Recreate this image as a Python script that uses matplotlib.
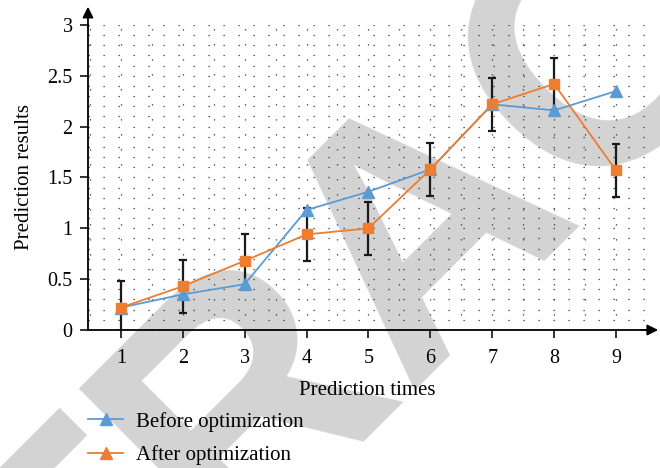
import matplotlib
matplotlib.use('Agg')
import matplotlib.pyplot as plt
from matplotlib.lines import Line2D
from matplotlib.ticker import MultipleLocator

# === data ===
times = [1, 2, 3, 4, 5, 6, 7, 8, 9]
before_opt = [0.22, 0.35, 0.45, 1.18, 1.36, 1.58, 2.22, 2.16, 2.35]
after_opt = [0.22, 0.43, 0.68, 0.94, 1.00, 1.58, 2.22, 2.42, 1.57]
after_err = [0.26, 0.26, 0.26, 0.26, 0.26, 0.26, 0.26, 0.26, 0.26]
yticks = [0, 0.5, 1, 1.5, 2, 2.5, 3]
ytick_labels = ['0', '0.5', '1', '1.5', '2', '2.5', '3']
series_labels = ['Before optimization', 'After optimization']

BLUE = '#5b9bd5'
ORANGE = '#ed7d31'
GRAY = '#d3d3d3'

plt.rcParams['font.family'] = ['Liberation Serif', 'DejaVu Serif']

fig = plt.figure(figsize=(6.6, 4.68), dpi=100)

# watermark behind everything
fig.text(0.745, 0.378, 'RETRACTED', rotation=45, rotation_mode='anchor',
         ha='center', va='baseline', fontsize=250, fontweight='bold',
         family='Liberation Sans', color=GRAY, zorder=-10)

ax = fig.add_axes([0.1333, 0.2949, 0.847, 0.6517])
ax.patch.set_alpha(0)

ax.errorbar(times, after_opt, yerr=after_err, fmt='none', ecolor='#1a1a1a',
            elinewidth=1.6, capsize=3, capthick=1.6, zorder=2)
ax.plot(times, before_opt, color=BLUE, lw=1.3, marker='^', ms=8.5,
        mfc=BLUE, mec=BLUE, zorder=3)
ax.plot(times, after_opt, color=ORANGE, lw=1.3, marker='s', ms=7.5,
        mfc=ORANGE, mec=ORANGE, zorder=4)

ax.set_xlim(0.47, 9.5)
ax.set_ylim(0, 3)
ax.set_xticks(times)
ax.set_yticks(yticks)
ax.set_yticklabels(ytick_labels)
ax.xaxis.set_minor_locator(MultipleLocator(0.5))
ax.yaxis.set_minor_locator(MultipleLocator(0.1))

ax.grid(which='both', color='#333333', lw=0.9, ls=(0, (1, 11)))
ax.set_axisbelow(True)
ax.tick_params(which='minor', length=0)
ax.tick_params(which='major', direction='out', length=6, width=1.3,
               color='#222222', labelsize=14.5)
ax.tick_params(axis='x', pad=8)
ax.tick_params(axis='y', pad=5)

for s in ['top', 'right']:
    ax.spines[s].set_visible(False)
for s in ['left', 'bottom']:
    ax.spines[s].set_linewidth(1.3)

# arrow heads on the axes
ax.annotate('', xy=(0, 1.06), xytext=(0, 0.99), xycoords='axes fraction',
            arrowprops=dict(arrowstyle='-|>', color='black', lw=1.3,
                            mutation_scale=16, shrinkA=0, shrinkB=0))
ax.annotate('', xy=(1.02, 0), xytext=(0.99, 0), xycoords='axes fraction',
            arrowprops=dict(arrowstyle='-|>', color='black', lw=1.3,
                            mutation_scale=16, shrinkA=0, shrinkB=0))

ax.set_xlabel('Prediction times', fontsize=15, labelpad=9)
ax.set_ylabel('Prediction results', fontsize=15, labelpad=10)

handles = [
    Line2D([], [], color=BLUE, lw=1.3, marker='^', ms=8, mfc=BLUE, mec=BLUE),
    Line2D([], [], color=ORANGE, lw=1.3, marker='^', ms=8, mfc=ORANGE, mec=ORANGE),
]
fig.legend(handles, series_labels, loc='upper left', bbox_to_anchor=(0.1333, 0.12),
           frameon=False, fontsize=15, handlelength=1.7, handletextpad=0.6,
           labelspacing=0.65, borderpad=0, borderaxespad=0)

fig.savefig('out.png', dpi=100)
